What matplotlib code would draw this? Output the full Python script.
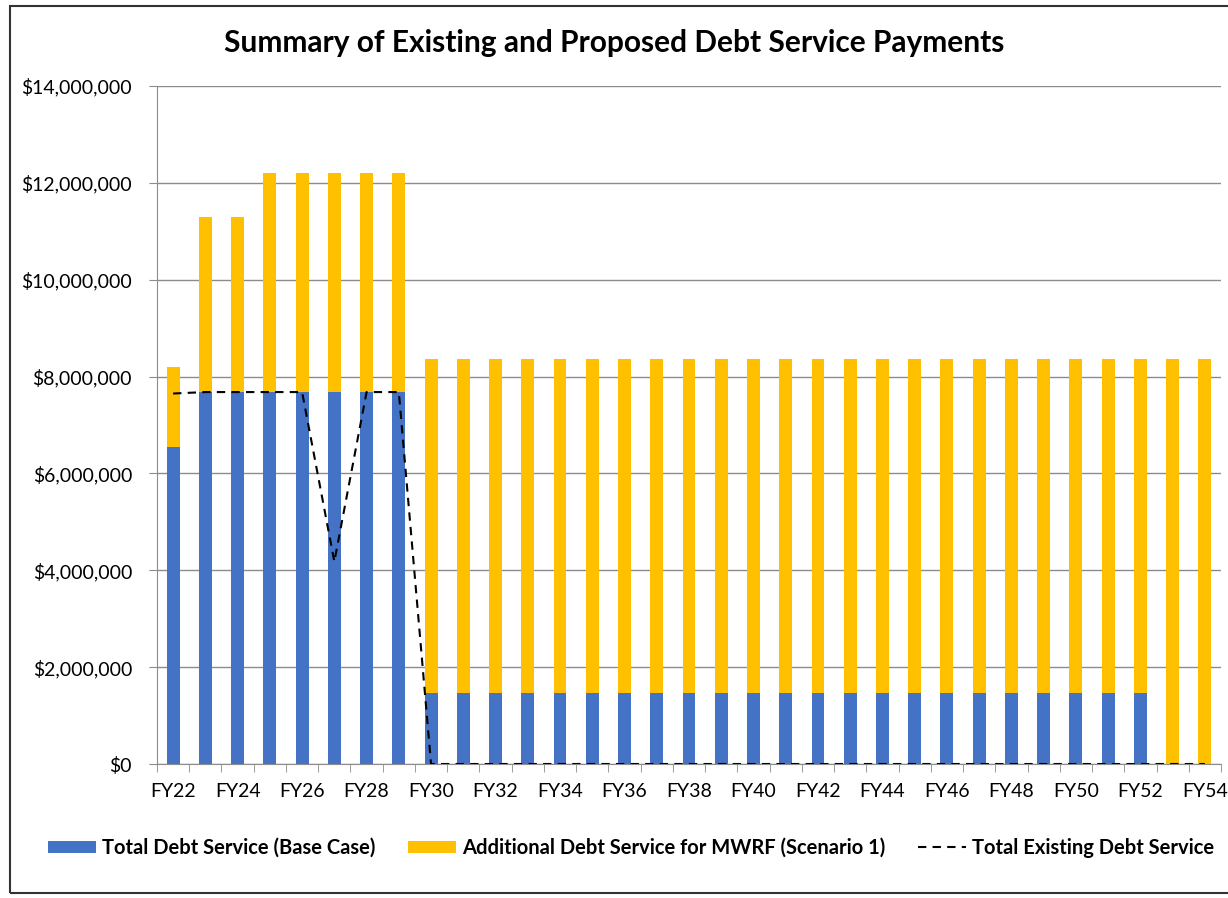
import numpy as np
import matplotlib.pyplot as plt
from matplotlib.patches import Rectangle
from matplotlib.ticker import FuncFormatter

plt.rcParams['font.family'] = ['Lato', 'DejaVu Sans']

years = [f'FY{y}' for y in range(22, 55)]

# base case debt service, additional MWRF debt service, existing debt service
base_case = [6.55e6] + [7.68e6] * 7 + [1.46e6] * 23 + [0, 0]
additional = [1.65e6, 3.61e6, 3.61e6, 4.52e6, 4.52e6, 4.52e6, 4.52e6, 4.52e6] + [6.90e6] * 23 + [8.36e6, 8.36e6]
existing = [7.65e6, 7.68e6, 7.68e6, 7.68e6, 7.68e6, 4.18e6, 7.68e6, 7.68e6] + [0] * 25

blue = '#4472C4'
gold = '#FFC000'

fig = plt.figure(figsize=(12.28, 8.98), dpi=100)
ax = fig.add_axes([157 / 1228, 1 - 764 / 898, 1064 / 1228, 678 / 898])

x = np.arange(len(years))
b1 = ax.bar(x, base_case, width=0.4, color=blue, label='Total Debt Service (Base Case)', zorder=2)
b2 = ax.bar(x, additional, width=0.4, bottom=base_case, color=gold,
            label='Additional Debt Service for MWRF (Scenario 1)', zorder=2)
ln, = ax.plot(x, existing, color='black', linestyle=(0, (4, 3)), linewidth=1.5,
              label='Total Existing Debt Service', zorder=3)

ax.set_xlim(-0.5, len(years) - 0.5)
ax.set_ylim(0, 14e6)
ax.set_yticks(np.arange(0, 14e6 + 1, 2e6))
ax.yaxis.set_major_formatter(FuncFormatter(lambda v, p: f'${v:,.0f}'))
ax.yaxis.grid(True, color='#8c8c8c', linewidth=1, zorder=0)

ax.set_xticks(x[::2])
ax.set_xticklabels(years[::2])
ax.set_xticks(np.arange(-0.5, len(years)), minor=True)
ax.tick_params(axis='x', which='major', length=0, pad=14, labelsize=14)
ax.tick_params(axis='x', which='minor', length=6, color='#8c8c8c', direction='out')
ax.tick_params(axis='y', length=6, color='#8c8c8c', labelsize=14, pad=12)

for s in ['top', 'right']:
    ax.spines[s].set_visible(False)
for s in ['left', 'bottom']:
    ax.spines[s].set_color('#8c8c8c')

fig.text(0.5, 1 - 43 / 898, 'Summary of Existing and Proposed Debt Service Payments',
         ha='center', va='center', fontsize=21.5, fontweight='bold')

fig.legend([b1, b2, ln], [b1.get_label(), b2.get_label(), ln.get_label()],
           loc='center', bbox_to_anchor=(631 / 1228, 1 - 848 / 898),
           ncol=3, frameon=False, prop={'weight': 'bold', 'size': 14.5},
           handlelength=2.4, handleheight=0.6, columnspacing=1.6, handletextpad=0.3)

# chart border
fig.patches.append(Rectangle((10 / 1228, 1 - 893 / 898), 1.1, 887 / 898,
                             transform=fig.transFigure, fill=False,
                             edgecolor='#333333', linewidth=1.5))

fig.savefig('out.png')
